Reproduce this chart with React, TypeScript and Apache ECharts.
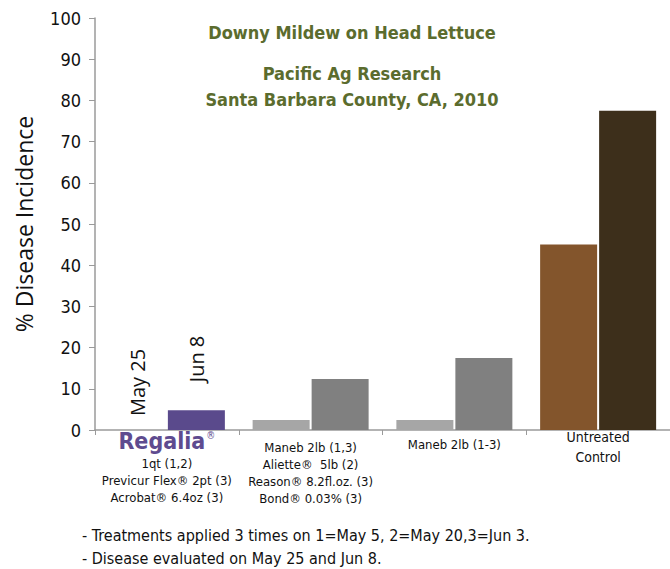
import React, { useEffect, useRef } from "react";
import * as echarts from "echarts";

const categories = ["Regalia", "Maneb+Aliette+Reason+Bond", "Maneb 2lb (1-3)", "Untreated Control"];
const may25 = [0, 2.4, 2.4, 45];
const jun8 = [4.8, 12.4, 17.5, 77.5];
const may25Colors = ["#5a4a8c", "#a6a6a6", "#a6a6a6", "#83552c"];
const jun8Colors = ["#5a4a8c", "#808080", "#808080", "#3d2f1b"];
const yTicks = { min: 0, max: 100, interval: 10 };
const notes = [
  "- Treatments applied 3 times on 1=May 5, 2=May 20,3=Jun 3.",
  "- Disease evaluated on May 25 and Jun 8.",
];

const NARROW = "'Liberation Sans Narrow', 'DejaVu Sans Condensed', 'Open Sans', sans-serif";

const catLabels = [
  "{reg|Regalia}{sup|®}\n{t|1qt (1,2)}\n{t|Previcur Flex® 2pt (3)}\n{t|Acrobat® 6.4oz (3)}",
  "{p|}\n{t|Maneb 2lb (1,3)}\n{t|Aliette®  5lb (2)}\n{t|Reason® 8.2fl.oz. (3)}\n{t|Bond® 0.03% (3)}",
  "{p2|}\n{t|Maneb 2lb (1-3)}",
  "{t2|Untreated}\n{t2|Control}",
];

export default function App() {
  const ref = useRef<HTMLDivElement>(null);
  useEffect(() => {
    document.body.style.margin = "0";
    const chart = echarts.init(ref.current!, null, { renderer: "svg" });
    const green = "#5b6c2e";
    chart.setOption({
      animation: false,
      backgroundColor: "#ffffff",
      title: [
        {
          text: "Downy Mildew on Head Lettuce",
          left: 347,
          top: 18,
          textAlign: "center",
          textStyle: { color: green, fontSize: 18, fontWeight: "bold", fontFamily: NARROW },
        },
        {
          text: "Pacific Ag Research\nSanta Barbara County, CA, 2010",
          left: 347,
          top: 55,
          textAlign: "center",
          textStyle: { color: green, fontSize: 18, fontWeight: "bold", fontFamily: NARROW, lineHeight: 26 },
        },
      ],
      grid: { left: 95, right: 0, top: 18, bottom: 139 },
      xAxis: {
        type: "category",
        data: categories,
        axisLine: { lineStyle: { color: "#9a9a9a", width: 1.5 } },
        axisTick: { show: true, length: 5, lineStyle: { color: "#9a9a9a" } },
        axisLabel: {
          interval: 0,
          margin: -3,
          verticalAlign: "top",
          formatter: (_v: string, i: number) => catLabels[i],
          rich: {
            reg: { color: "#5e4b8f", fontSize: 23, fontWeight: "bold", fontFamily: NARROW, lineHeight: 28 },
            sup: { color: "#5e4b8f", fontSize: 10, fontFamily: NARROW, padding: [0, 0, 12, 1] },
            t: { color: "#111", fontSize: 13, fontFamily: NARROW, lineHeight: 17 },
            t2: { color: "#111", fontSize: 14, fontFamily: NARROW, lineHeight: 20 },
            p: { fontSize: 1, lineHeight: 12 },
            p2: { fontSize: 1, lineHeight: 9 },
          },
        },
      },
      yAxis: {
        type: "value",
        min: yTicks.min,
        max: yTicks.max,
        interval: yTicks.interval,
        name: "% Disease Incidence",
        nameLocation: "middle",
        nameGap: 60,
        nameTextStyle: { fontSize: 23, color: "#111", fontFamily: "'Open Sans', sans-serif" },
        axisLine: { show: true, lineStyle: { color: "#9a9a9a", width: 1.5 } },
        axisTick: { show: true, length: 6, lineStyle: { color: "#9a9a9a" } },
        splitLine: { show: false },
        axisLabel: { fontSize: 18, color: "#111", margin: 14, fontFamily: NARROW },
      },
      series: [
        {
          name: "May 25",
          type: "bar",
          barWidth: 57,
          barGap: "3.5%",
          data: may25.map((v, i) => ({
            value: v,
            itemStyle: { color: may25Colors[i] },
            label:
              i === 0
                ? {
                    show: true,
                    position: "top",
                    distance: 14,
                    rotate: 90,
                    align: "left",
                    verticalAlign: "middle",
                    formatter: "May 25",
                    fontSize: 20,
                    color: "#111",
                    fontFamily: "'Open Sans', sans-serif",
                  }
                : { show: false },
          })),
        },
        {
          name: "Jun 8",
          type: "bar",
          barWidth: 57,
          data: jun8.map((v, i) => ({
            value: v,
            itemStyle: { color: jun8Colors[i] },
            label:
              i === 0
                ? {
                    show: true,
                    position: "top",
                    distance: 28,
                    rotate: 90,
                    align: "left",
                    verticalAlign: "middle",
                    formatter: "Jun 8",
                    fontSize: 20,
                    color: "#111",
                    fontFamily: "'Open Sans', sans-serif",
                  }
                : { show: false },
          })),
        },
      ],
      graphic: notes.map((n, i) => ({
        type: "text",
        left: 82,
        top: 527 + i * 23,
        style: { text: n, fontSize: 16, fill: "#111", fontFamily: NARROW },
      })),
    });
    return () => chart.dispose();
  }, []);
  return <div ref={ref} style={{ width: 670, height: 569 }} />;
}
